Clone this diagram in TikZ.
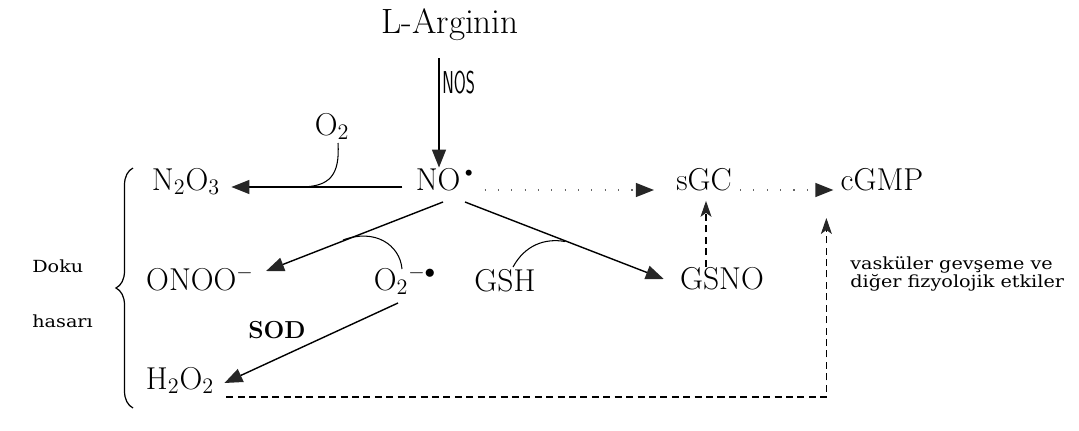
\documentclass[tikz,border=0pt]{standalone}
\usepackage{graphicx}
\usepackage{fontspec}
\newfontfamily\twfont{DejaVu Serif}
\usetikzlibrary{arrows.meta,decorations.pathreplacing}
\newcommand{\wide}[1]{\scalebox{1.15}[1]{#1}}
\begin{document}
\begin{tikzpicture}[x=0.02cm,y=-0.02cm,
  chem/.style={font=\fontsize{18}{20}\selectfont, inner sep=0pt, anchor=base},
  small/.style={font=\twfont\fontsize{9.5}{10}\selectfont, inner sep=0pt, anchor=base west, align=left},
  arr/.style={line width=0.8pt, -{Triangle[length=0.36cm,width=0.28cm,color=black!85]}},
  thinarc/.style={line width=0.6pt},
  dotarr/.style={draw=black!60, line width=0.7pt, dash pattern=on 0.6pt off 7pt,
     -{Triangle[length=0.36cm,width=0.28cm,color=black!85]}},
  dasharr/.style={line width=0.7pt, dash pattern=on 4pt off 2.5pt,
     -{Stealth[length=0.32cm,width=0.22cm,inset=0.08cm,color=black!85]}}
]
\path[use as bounding box] (0,0) rectangle (1079,430);

% nodes
\node[chem, font=\fontsize{20}{22}\selectfont] (Larg) at (450,33) {L-Arginin};
\node[inner sep=0pt, anchor=base west] (NOS) at (442,93) {\scalebox{0.55}[1]{\fontsize{18}{18}\selectfont\sffamily NOS}};
\node[chem] (O2) at (332,135) {O\textsubscript{2}};
\node[chem] (NO) at (447,190) {NO\textsuperscript{\textbullet}};
\node[chem] (N2O3) at (186,190) {N\textsubscript{2}O\textsubscript{3}};
\node[chem] (sGC) at (704,190) {sGC};
\node[chem] (cGMP) at (882,190) {cGMP};
\node[chem] (ONOO) at (200,290) {ONOO$^{-}$};
\node[chem] (O2m) at (405,290) {O\textsubscript{2}\textsuperscript{$-\bullet$}};
\node[chem] (GSH) at (505,291) {GSH};
\node[chem] (GSNO) at (722,289) {GSNO};
\node[chem] (H2O2) at (180,389) {H\textsubscript{2}O\textsubscript{2}};
\node[chem, font=\fontsize{14}{16}\selectfont\bfseries] (SOD) at (277,338) {SOD};
\node[small] (doku) at (32,272) {\wide{Doku}};
\node[small] (hasar) at (32,327) {\wide{hasarı}};
\node[small] (vask) at (850,287) {\wide{vasküler gevşeme ve}\\\wide{diğer fizyolojik etkiler}};

% coordinates
\coordinate (nostop) at (439,58);
\coordinate (j1) at (300,187);
\coordinate (j2) at (343,240);
\coordinate (j3) at (565,241.5);
\coordinate (bb) at (133,408);
\coordinate (bt) at (133,168);

% NOS arrow
\draw[arr] (nostop) -- (nostop |- NO.north);
% NO -> N2O3
\draw[arr] ([shift={(-13,-3)}]NO.base west) -- ([shift={(11,-3)}]N2O3.base east);
% O2 joins
\draw[thinarc] ([shift={(6,8)}]O2.base) .. controls +(2,32) and +(30,0) .. (j1);
% NO -> sGC -> cGMP (dotted)
\draw[dotarr] ([shift={(6,0)}]NO.base east) -- ([shift={(-22,0)}]sGC.base west);
\draw[dotarr] ([shift={(8,0)}]sGC.base east) -- ([shift={(-7,0)}]cGMP.base west);
% NO -> ONOO
\draw[arr] ([shift={(-4,12)}]NO.base) -- ([shift={(12,-19)}]ONOO.base east);
\draw[thinarc] (j2) .. controls (375,228) and (400,245) .. ([shift={(-3,-21)}]O2m.base);
% NO -> GSNO
\draw[arr] ([shift={(18,12)}]NO.base) -- ([shift={(-16,-10)}]GSNO.base west);
\draw[thinarc] ([shift={(8,-24)}]GSH.base) .. controls (525,245) and (545,238) .. (j3);
% GSNO -> sGC
\draw[dasharr] ([shift={(-16,0)}]GSNO.north) -- ([shift={(2,10)}]sGC.south);
% O2- -> H2O2
\draw[arr] ([shift={(-7,13)}]O2m.base) -- ([shift={(10,-6)}]H2O2.base east);
% H2O2 -> cGMP dashed
\draw[dasharr] ([shift={(12,8)}]H2O2.base east) -| ([shift={(-14,28)}]cGMP.base west);
% brace
\draw[line width=0.7pt, decorate, decoration={brace, amplitude=0.34cm}] (bb) -- (bt);
\end{tikzpicture}
\end{document}
